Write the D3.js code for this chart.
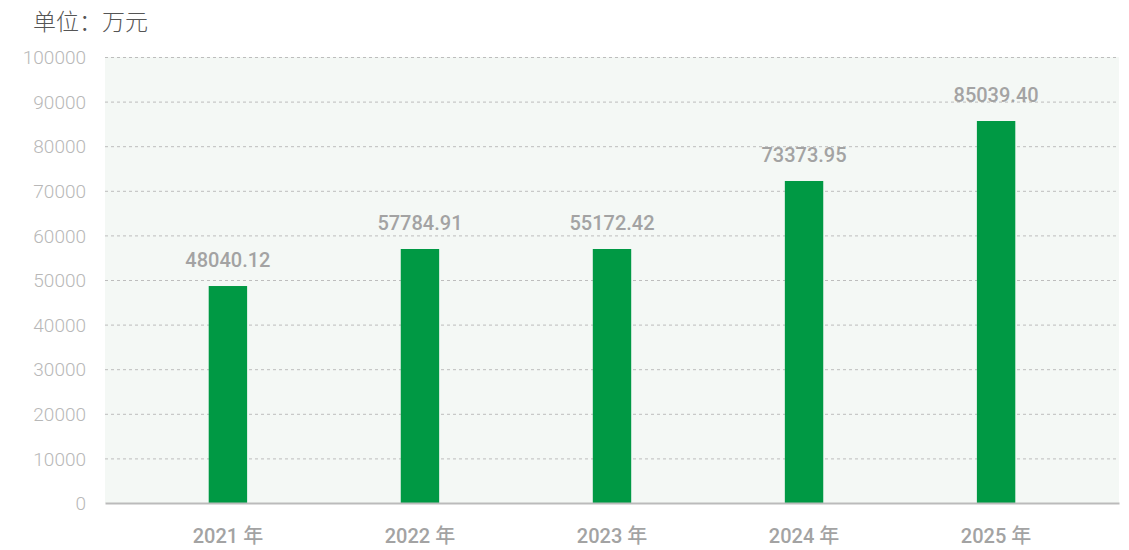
<!DOCTYPE html>
<html>
<head>
<meta charset="utf-8">
<script src="https://cdn.jsdelivr.net/npm/d3@7"></script>
<style>
  body { margin: 0; background: #fff; }
  text { font-family: Roboto, "Noto Sans CJK SC", sans-serif; }
</style>
</head>
<body>
<div class="chart"></div>
<script>
var margin = { top: 57, right: 10, bottom: 47, left: 105 }

var width = 1129 - margin.left - margin.right;
var height = 550 - margin.top - margin.bottom;

// data
var years = ['2021 年', '2022 年', '2023 年', '2024 年', '2025 年'];
var barValues = [48650, 56950, 56950, 72200, 85650];
var valueLabels = ['48040.12', '57784.91', '55172.42', '73373.95', '85039.40'];
var yTicks = [0, 10000, 20000, 30000, 40000, 50000, 60000, 70000, 80000, 90000, 100000];

var data = years.map((y, i) => ({ year: y, value: barValues[i], label: valueLabels[i] }));

var svg = d3.select('.chart')
  .append('svg')
    .attr('width', width + margin.left + margin.right)
    .attr('height', height + margin.top + margin.bottom)
  .append('g')
    .attr('transform', `translate(${margin.left}, ${margin.top})`);

svg.append('text')
  .attr('x', 33 - margin.left)
  .attr('y', 30 - margin.top)
  .style('font-size', '23px')
  .style('font-weight', 300)
  .style('font-family', '"Noto Sans CJK SC", sans-serif')
  .attr('fill', '#555')
  .text('单位：万元');

svg.append('rect')
  .attr('width', width)
  .attr('height', height)
  .attr('fill', '#f4f8f5');

var yScale = d3.scaleLinear()
  .domain([0, 100000])
  .range([height, 0]);

var xScale = d3.scaleBand()
  .paddingInner(0.8)
  .paddingOuter(0.54)
  .domain(years)
  .range([0, width]);

// grid lines
svg.append('g')
  .selectAll('line')
  .data(yTicks.filter(d => d > 0))
  .enter()
  .append('line')
    .attr('x1', 0)
    .attr('x2', width)
    .attr('y1', d => yScale(d) + 0.5)
    .attr('y2', d => yScale(d) + 0.5)
    .attr('stroke', '#bdbdbd')
    .attr('stroke-dasharray', '3,3');

var yAxis = d3.axisLeft(yScale)
  .tickValues(yTicks)
  .tickSize(0)
  .tickPadding(19)
  .tickFormat(d3.format('d'));

svg.append('g')
  .call(yAxis)
  .call(g => g.select('.domain').remove())
  .selectAll('text')
    .style('font-size', '19px')
    .style('font-weight', 300)
    .attr('fill', '#b8b8b8')
    .attr('dy', '0.35em');

svg.selectAll('.bar')
  .data(data)
  .enter()
  .append('rect')
    .attr('class', 'bar')
    .attr('x', d => xScale(d.year))
    .attr('y', d => yScale(d.value))
    .attr('width', xScale.bandwidth())
    .attr('height', d => height - yScale(d.value))
    .attr('fill', '#009944');

svg.selectAll('.val')
  .data(data)
  .enter()
  .append('text')
    .attr('class', 'val')
    .attr('x', d => xScale(d.year) + xScale.bandwidth() / 2)
    .attr('y', d => yScale(d.value) - 19)
    .attr('text-anchor', 'middle')
    .style('font-size', '20px')
    .style('font-weight', 500)
    .attr('fill', '#a3a3a3')
    .text(d => d.label);

var xAxis = d3.axisBottom(xScale)
  .tickSize(0)
  .tickPadding(26);

svg.append('g')
  .attr('transform', `translate(0, ${height})`)
  .call(xAxis)
  .call(g => g.select('.domain').attr('stroke', '#bbb').attr('stroke-width', 2))
  .selectAll('text')
    .style('font-size', '20px')
    .style('font-weight', 500)
    .attr('fill', '#a3a3a3');
</script>
</body>
</html>
